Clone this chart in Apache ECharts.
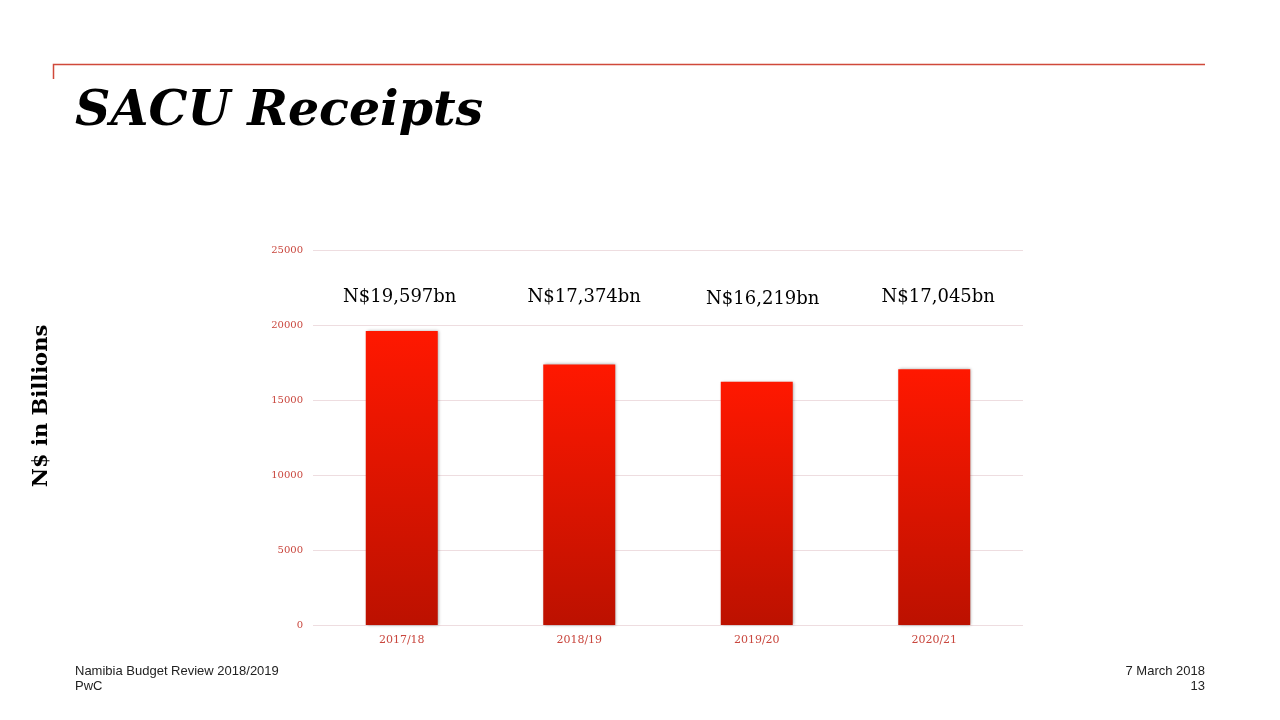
<!DOCTYPE html>
<html><head><meta charset="utf-8">
<script src="https://cdn.jsdelivr.net/npm/echarts@6/dist/echarts.min.js"></script>
<style>html,body{margin:0;padding:0;background:#fff}#c{width:1280px;height:720px}</style>
</head><body><div id="c"></div>
<script>
const categories = ['2017/18','2018/19','2019/20','2020/21'];
const receipts = [19597, 17374, 16219, 17045];
const valueLabels = ['N$19,597bn','N$17,374bn','N$16,219bn','N$17,045bn'];
const yTicks = [0, 5000, 10000, 15000, 20000, 25000];

const LABEL_LEVEL = 21870;
const labelNudges = [[-2, 0], [5, 0], [6, 2], [4, 0]];
const chart = echarts.init(document.getElementById('c'));
const red = '#c9463d';
chart.setOption({
  animation: false,
  backgroundColor: '#fff',
  title: {
    text: 'SACU Receipts', left: 70, top: 83,
    textStyle: {fontFamily: 'DejaVu Serif', fontStyle: 'italic', fontWeight: 'bold', fontSize: 49, color: '#000'}
  },
  graphic: [
    {type: 'polyline', shape: {points: [[53.5,79],[53.5,64.5],[1205,64.5]]}, style: {stroke: '#d0493a', lineWidth: 1.5, fill: null}},
    {type: 'text', x: 75, y: 664, style: {text: 'Namibia Budget Review 2018/2019\nPwC', font: '13px "Liberation Sans"', fill: '#222', lineHeight: 15}},
    {type: 'text', x: 1205, y: 664, style: {text: '7 March 2018\n13', font: '13px "Liberation Sans"', fill: '#222', align: 'right', lineHeight: 15}},
    {type: 'text', x: 42, y: 406, rotation: Math.PI/2, style: {text: 'N$ in Billions', font: 'bold 21px "DejaVu Serif"', fill: '#000', align: 'center', verticalAlign: 'middle'}}
  ],
  grid: {left: 313, right: 257, top: 250, bottom: 95},
  xAxis: {
    type: 'category', data: categories,
    axisLine: {show: false}, axisTick: {show: false},
    axisLabel: {color: red, fontFamily: 'DejaVu Serif', fontSize: 11, margin: 10}
  },
  yAxis: {
    type: 'value', min: 0, max: 25000, interval: 5000,
    axisLine: {show: false}, axisTick: {show: false},
    splitLine: {lineStyle: {color: '#eedde0', width: 1}},
    axisLabel: {color: red, fontFamily: 'DejaVu Serif', fontSize: 10, margin: 10,
      customValues: yTicks, formatter: v => String(v)}
  },
  series: [
    {
      type: 'bar', data: receipts, barWidth: 72,
      itemStyle: {
        color: new echarts.graphic.LinearGradient(0,0,0,1,[{offset:0,color:'#ff1800'},{offset:1,color:'#bc1100'}]),
        shadowBlur: 3, shadowColor: 'rgba(0,0,0,0.35)', shadowOffsetX: 1, shadowOffsetY: 0
      }
    },
    {
      type: 'scatter', symbolSize: 0, silent: true,
      itemStyle: {opacity: 1},
      data: categories.map((c, i) => ({value: [c, LABEL_LEVEL], label: {offset: labelNudges[i]}})),
      label: {show: true, position: 'inside', formatter: p => valueLabels[p.dataIndex],
        fontFamily: 'DejaVu Serif', fontSize: 18, color: '#000', opacity: 1}
    }
  ]
});
</script></body></html>
